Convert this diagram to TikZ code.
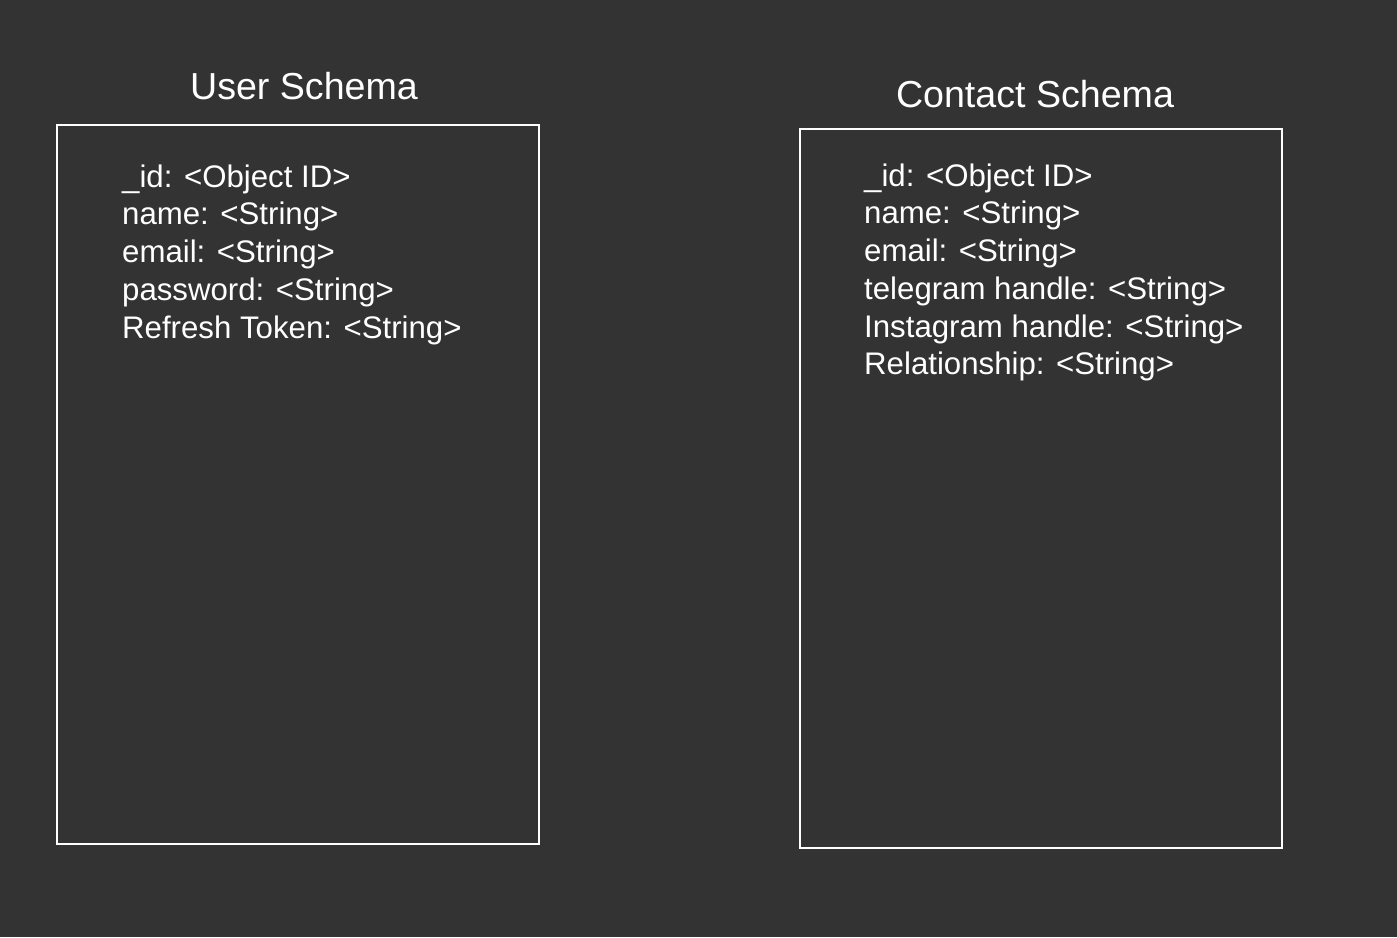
\documentclass[tikz,border=0pt]{standalone}
\usepackage{fontspec}
\setmainfont{Liberation Sans}
\definecolor{bg}{HTML}{333333}
\begin{document}
\begin{tikzpicture}[x=1pt,y=-1pt,
  box/.style={draw=white,line width=1.6pt},
  field/.style={anchor=base west,text=white,inner sep=0pt,font=\fontsize{31.2}{36}\selectfont},
  title/.style={anchor=base,text=white,inner sep=0pt,font=\fontsize{37.6}{42}\selectfont}]
\fill[bg] (0,0) rectangle (1397,937);
\useasboundingbox (0,0) rectangle (1397,937);
\draw[box] (57,125) rectangle (539,844);
\draw[box] (800,129) rectangle (1282,848);
\node[title] (t1) at (304,99) {User Schema};
\node[title] (t2) at (1035,107) {Contact Schema};
\node[field] (u1) at (122,187) {\_id: <Object ID>};
\node[field] (u2) at (122,224) {name: <String>};
\node[field] (u3) at (122,262) {email: <String>};
\node[field] (u4) at (122,300) {password: <String>};
\node[field] (u5) at (122,338) {Refresh Token: <String>};
\node[field] (c1) at (864,186) {\_id: <Object ID>};
\node[field] (c2) at (864,223) {name: <String>};
\node[field] (c3) at (864,261) {email: <String>};
\node[field] (c4) at (864,299) {telegram handle: <String>};
\node[field] (c5) at (864,337) {Instagram handle: <String>};
\node[field] (c6) at (864,374) {Relationship: <String>};
\end{tikzpicture}
\end{document}
